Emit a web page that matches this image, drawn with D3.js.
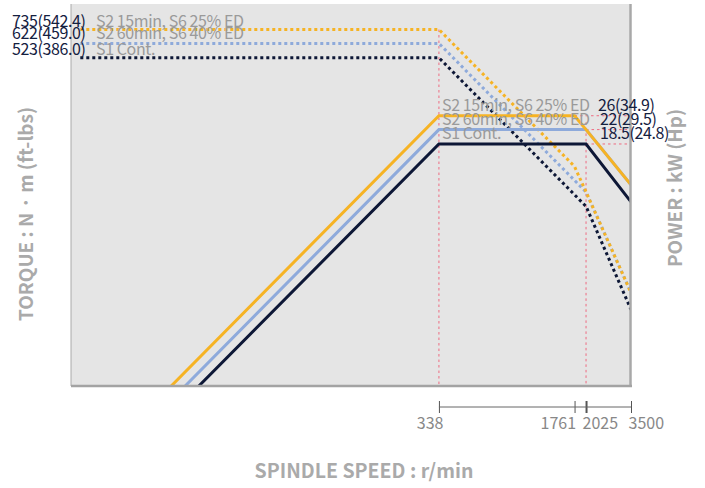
<!DOCTYPE html>
<html><head><meta charset="utf-8">
<script src="https://cdn.jsdelivr.net/npm/d3@7"></script>
<style>
html,body{margin:0;padding:0;background:#fff;}
svg{display:block;font-family:"Noto Sans CJK KR","Noto Sans",sans-serif;}
</style></head>
<body>
<svg id="chart" width="705" height="488"></svg>
<script>
// ---- data ----
const seriesNames = ["S2 15min, S6 25% ED", "S2 60min, S6 40% ED", "S1 Cont."];
const seriesColors = ["#f6b324", "#8eaadb", "#0d1736"];
const powerSpeeds = [[13, 338, 1761, 2025, 3500], [15.4, 338, 2025, 3500], [18.2, 338, 2025, 3500]];
const powerValues = [[1, 26, 26, 22, 11.3], [1, 22, 22, 11.3], [1, 18.5, 18.5, 9.2]];
const torqueSpeeds = [[4.3, 338, 1761, 2025, 3500], [4.3, 338, 2025, 3500], [4.3, 338, 2025, 3500]];
const torqueValues = [[735, 735, 141, 103.7, 30.8], [622, 622, 103.7, 30.8], [523, 523, 87.2, 25.1]];
const torqueLabels = ["735(542.4)", "622(459.0)", "523(386.0)"];
const powerLabels = ["26(34.9)", "22(29.5)", "18.5(24.8)"];
const speedTicks = [338, 1761, 2025, 3500];

// ---- layout ----
const L = 71, R = 631, T = 4, B = 386;
const svg = d3.select("#chart");
const x = d3.scaleLog().domain([3.84, 3500]).range([L, R]);
const yP = d3.scaleLog().domain([1, 100]).range([B, T]);
const yT = d3.scaleLog().domain([10, 1000]).range([B, T]);

svg.append("defs").append("clipPath").attr("id", "clip")
  .append("rect").attr("x", L).attr("y", T).attr("width", R - L).attr("height", B - T);

svg.append("rect").attr("x", L).attr("y", T).attr("width", R - L).attr("height", B - T).attr("fill", "#e5e5e5");

const plot = svg.append("g").attr("clip-path", "url(#clip)");

// reference lines
const pink = "#ee6a80";
const refs = [
  [x(338), yT(735), x(338), B],
  [x(2025), yP(24), x(2025), B],
  [x(1761), yP(26), R, yP(26)],
  [x(2025), yP(22), R, yP(22)],
  [x(2025), yP(18.5), R, yP(18.5)]
];
plot.selectAll("line.ref").data(refs).join("line").attr("class", "ref")
  .attr("x1", d => d[0]).attr("y1", d => d[1]).attr("x2", d => d[2]).attr("y2", d => d[3])
  .attr("stroke", pink).attr("stroke-width", 1).attr("stroke-dasharray", "2.5 3");

const pLine = d3.line().x(d => x(d[0])).y(d => yP(d[1]));
const tLine = d3.line().x(d => x(d[0])).y(d => yT(d[1]));

// torque dotted (draw navy first, orange last)
[2, 1, 0].forEach(i => {
  const pts = torqueSpeeds[i].map((s, j) => [s, torqueValues[i][j]]);
  plot.append("path").attr("d", tLine(pts)).attr("fill", "none")
    .attr("stroke", seriesColors[i]).attr("stroke-width", 3).attr("stroke-dasharray", "3 3");
});
// power solid
[2, 1, 0].forEach(i => {
  const pts = powerSpeeds[i].map((s, j) => [s, powerValues[i][j]]);
  plot.append("path").attr("d", pLine(pts)).attr("fill", "none")
    .attr("stroke", seriesColors[i]).attr("stroke-width", 3);
});

// frame
svg.append("line").attr("x1", L).attr("x2", L).attr("y1", T).attr("y2", B).attr("stroke", "#aaa").attr("stroke-width", 1);
svg.append("line").attr("x1", R - 0.5).attr("x2", R - 0.5).attr("y1", T).attr("y2", B).attr("stroke", "#a8a8a8").attr("stroke-width", 2.5);
svg.append("line").attr("x1", L).attr("x2", R + 1).attr("y1", B).attr("y2", B).attr("stroke", "#a3a3a3").attr("stroke-width", 2.5);

// labels
const numColor = "#14203f", grayText = "#9a9a9a";
const leftBase = [26.7, 38.5, 55];
torqueLabels.forEach((t, i) => {
  svg.append("text").attr("x", 12).attr("y", leftBase[i]).attr("font-size", 16)
    .attr("letter-spacing", -0.4).attr("fill", numColor).text(t);
  svg.append("text").attr("x", 96).attr("y", leftBase[i]).attr("font-size", 16)
    .attr("letter-spacing", -0.4).attr("fill", grayText).text(seriesNames[i]);
});
const powLevel = [26, 22, 18.5];
powerLabels.forEach((t, i) => {
  svg.append("text").attr("x", 442).attr("y", yP(powLevel[i]) - 4.8).attr("font-size", 16)
    .attr("letter-spacing", -0.4).attr("fill", grayText).text(seriesNames[i]);
  svg.append("text").attr("x", i === 0 ? 598 : 600).attr("y", yP(powLevel[i]) - 4.8).attr("font-size", 16)
    .attr("letter-spacing", -0.4).attr("fill", numColor).text(t);
});

// x axis
const axG = svg.append("g").attr("transform", "translate(0,401)");
const axis = d3.axisBottom(x).tickValues(speedTicks).tickSize(12).tickFormat(d3.format("d"));
axG.call(axis);
axG.select(".domain").remove();
axG.append("line").attr("x1", x(338)).attr("x2", x(3500)).attr("y1", 6).attr("y2", 6).attr("stroke", "#666");
axG.selectAll(".tick line").attr("stroke", "#555").attr("stroke-width", (d) => d === 2025 ? 2 : 1);
const anchors = ["end", "end", "start", "start"];
const dxs = [4, 1, -4, -3];
axG.selectAll(".tick text").attr("font-size", 16).attr("fill", "#888").attr("font-family", "Noto Sans CJK KR, Noto Sans, sans-serif")
  .attr("y", 28).attr("dy", 0)
  .attr("text-anchor", (d, i) => anchors[i]).attr("dx", (d, i) => dxs[i]);

// axis titles
svg.append("text").attr("x", 364).attr("y", 478).attr("text-anchor", "middle").attr("font-size", 19.5)
  .attr("font-weight", "bold").attr("fill", "#aaa").text("SPINDLE SPEED : r/min");
svg.append("text").attr("transform", "translate(33,214) rotate(-90)").attr("text-anchor", "middle").attr("font-size", 19)
  .attr("font-weight", "bold").attr("fill", "#aaa").text("TORQUE : N · m (ft-lbs)");
svg.append("text").attr("transform", "translate(682,188) rotate(-90)").attr("text-anchor", "middle").attr("font-size", 19)
  .attr("font-weight", "bold").attr("fill", "#aaa").text("POWER : kW (Hp)");
</script>
</body></html>
